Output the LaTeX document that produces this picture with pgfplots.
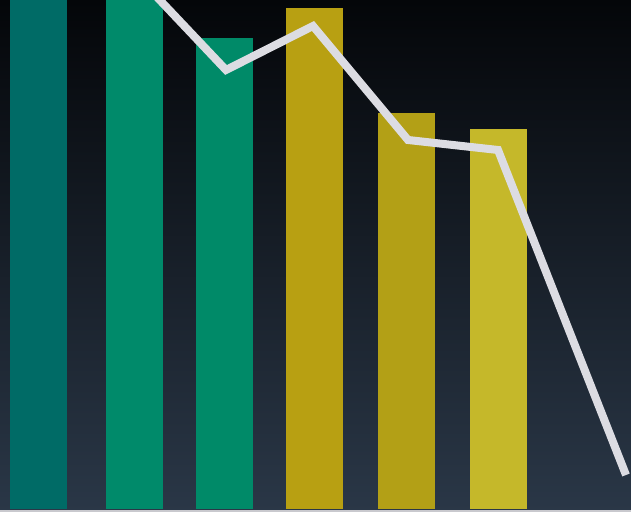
\documentclass[border=0pt]{standalone}
\usepackage{pgfplots}
\pgfplotsset{compat=1.18}
\definecolor{bgtop}{HTML}{040609}
\definecolor{bgmid}{HTML}{0D141C}
\definecolor{bgbot}{HTML}{2A3747}
\definecolor{cA}{HTML}{006B66}
\definecolor{cB}{HTML}{008A6A}
\definecolor{cC}{HTML}{008A68}
\definecolor{cD}{HTML}{B8A012}
\definecolor{cE}{HTML}{B3A016}
\definecolor{cF}{HTML}{C5B82A}
\definecolor{ln}{HTML}{DCDCE2}
\begin{document}
\begin{tikzpicture}
\begin{axis}[
  scale only axis, width=631bp, height=512bp,
  xmin=0, xmax=631, ymin=-3, ymax=509,
  hide axis,
  axis background/.style={shade, top color=bgtop, middle color=bgmid, bottom color=bgbot},
  ybar, bar width=57, bar shift=0pt,
  clip=true,
]
\addplot[fill=cA, draw=none] coordinates {(38,530)};
\addplot[fill=cB, draw=none] coordinates {(134,530)};
\addplot[fill=cC, draw=none] coordinates {(224.5,471)};
\addplot[fill=cD, draw=none] coordinates {(314.5,501)};
\addplot[fill=cE, draw=none] coordinates {(406.5,396)};
\addplot[fill=cF, draw=none] coordinates {(498,380)};
\addplot[sharp plot, draw=ln, line width=8bp, line join=miter, mark=none] coordinates {
  (138,532) (226,439) (313,483) (408,369) (498,359) (626,34)
};
\addplot[sharp plot, draw=ln!80!gray, line width=2.5bp, mark=none] coordinates {(0,-2) (631,-2)};
\end{axis}
\end{tikzpicture}
\end{document}
